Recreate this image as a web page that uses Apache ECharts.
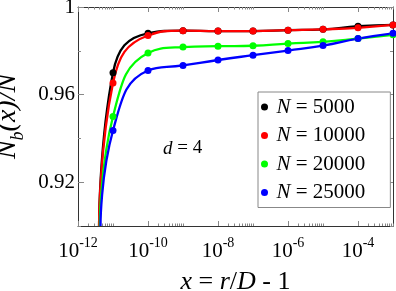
<!DOCTYPE html>
<html><head><meta charset="utf-8">
<script src="https://cdn.jsdelivr.net/npm/echarts@6/dist/echarts.min.js"></script>
<style>html,body{margin:0;padding:0;background:#fff}#c{width:396px;height:291px}</style>
</head><body><div id="c"></div>
<script>
const xValues = [1e-11, 1e-10, 1e-9, 1e-8, 1e-7, 1e-6, 1e-5, 1e-4, 1e-3];
const seriesNames = ['N = 5000', 'N = 10000', 'N = 20000', 'N = 25000'];
const colors = ['#000000', '#ff0000', '#00ff00', '#0000ff'];
const y5000  = [0.9700, 0.9880, 0.9892, 0.9890, 0.9890, 0.9894, 0.9898, 0.9912, 0.9918];
const y10000 = [0.9653, 0.9870, 0.9892, 0.9890, 0.9890, 0.9894, 0.9898, 0.9905, 0.9918];
const y20000 = [0.9500, 0.9790, 0.9817, 0.9821, 0.9823, 0.9833, 0.9841, 0.9856, 0.9873];
const y25000 = [0.9436, 0.9710, 0.9733, 0.9758, 0.9780, 0.9801, 0.9824, 0.9856, 0.9880];
// where each curve enters through the bottom edge of the frame
const entryX = [4.0e-12, 4.0e-12, 4.2e-12, 4.4e-12];
const entryY = 0.90;
const xLabelExps = [-12, -10, -8, -6, -4];
const yLabelValues = [0.92, 0.96, 1];
const yMinorValues = [0.90, 0.94, 0.98];
const annotation = 'd = 4';

const allY = [y5000, y10000, y20000, y25000];
const serif = 'Liberation Serif';
const xMinorExps = [];
xLabelExps.forEach(e => { for (let k = 2; k <= 10; k++) xMinorExps.push(e + Math.log10(k)); });

const tickColor = '#888';
const axisColor = '#333';

function tickAxisX(pos, vals, len) {
  return {type: 'value', min: -12, max: -3, position: pos, gridIndex: 0,
    axisLine: {show: false}, splitLine: {show: false}, axisLabel: {show: false},
    axisTick: {show: true, inside: true, length: len, customValues: vals, lineStyle: {color: tickColor, width: 1}}};
}
function tickAxisY(pos, vals, len, showLine) {
  return {type: 'value', min: 0.9, max: 1, position: pos, gridIndex: 0,
    axisLine: {show: showLine, onZero: false, lineStyle: {color: axisColor, width: 1}}, splitLine: {show: false}, axisLabel: {show: false},
    axisTick: {show: true, inside: true, length: len, customValues: vals, lineStyle: {color: tickColor, width: 1}}};
}

const series = allY.map((ys, i) => ({
  name: seriesNames[i], type: 'line', xAxisIndex: 0, yAxisIndex: 0,
  smooth: 0.5, symbol: 'circle', symbolSize: 7, showAllSymbol: true,
  lineStyle: {color: colors[i], width: 2.3}, itemStyle: {color: colors[i]},
  clip: true,
  data: [{value: [entryX[i], entryY], symbol: 'none'}].concat(xValues.map((x, j) => [x, ys[j]]))
}));

const chart = echarts.init(document.getElementById('c'), null, {renderer: 'canvas'});
chart.setOption({
  animation: false,
  backgroundColor: '#fff',
  grid: {left: 78, right: 3, top: 7, bottom: 65, containLabel: false, outerBoundsMode: 'none'},
  xAxis: [
    {type: 'log', logBase: 10, min: 1e-12, max: 1e-3, position: 'bottom',
     axisLine: {show: true, onZero: false, lineStyle: {color: axisColor, width: 1}},
     axisTick: {show: false}, splitLine: {show: false}, minorTick: {show: false},
     axisLabel: {margin: 10, formatter: v => {
        const e = Math.round(Math.log10(v));
        return xLabelExps.indexOf(e) >= 0 ? '{a|10}{b|' + e + '}' : '';
      },
      rich: {a: {fontFamily: serif, fontSize: 21, color: '#000', lineHeight: 26, verticalAlign: 'bottom'},
             b: {fontFamily: serif, fontSize: 14, color: '#000', lineHeight: 26, verticalAlign: 'top'}}},
     name: '{i|x}{t| = }{i|r}{t|/}{i|D}{t| - 1}', nameLocation: 'middle', nameGap: 43,
     nameTextStyle: {rich: {i: {fontFamily: serif, fontStyle: 'italic', fontSize: 26, color: '#000'},
                            t: {fontFamily: serif, fontSize: 26, color: '#000'}}}},
    tickAxisX('bottom', xLabelExps, 5),
    tickAxisX('bottom', xMinorExps, 2.5),
    Object.assign(tickAxisX('top', xLabelExps, 5), {axisLine: {show: true, onZero: false, lineStyle: {color: axisColor, width: 1}}}),
    tickAxisX('top', xMinorExps, 2.5)
  ],
  yAxis: [
    {type: 'value', min: 0.9, max: 1, position: 'left',
     axisLine: {show: true, onZero: false, lineStyle: {color: axisColor, width: 1}},
     splitLine: {show: false},
     axisTick: {show: true, inside: true, length: 6, customValues: yLabelValues, lineStyle: {color: tickColor, width: 1}},
     axisLabel: {customValues: yLabelValues, margin: 3, fontFamily: serif, fontSize: 21, color: '#000',
       formatter: v => (Math.abs(v - 1) < 1e-9 ? '1' : v.toFixed(2))},
     name: '{n|N}{s|b}{n|(x)/N}', nameLocation: 'middle', nameGap: 44, nameRotate: 90,
     nameTextStyle: {rich: {n: {fontFamily: serif, fontStyle: 'italic', fontSize: 28, color: '#000', lineHeight: 30},
                            s: {fontFamily: serif, fontStyle: 'italic', fontSize: 18, color: '#000', lineHeight: 40, verticalAlign: 'bottom'}}}},
    tickAxisY('left', yMinorValues, 3, false),
    tickAxisY('right', yLabelValues, 6, true),
    tickAxisY('right', yMinorValues, 3, false)
  ],
  legend: {
    data: seriesNames, orient: 'vertical', left: 258, top: 92,
    padding: [4, 25, 4, 3], itemGap: 6.5, itemWidth: 14, itemHeight: 7, icon: 'circle',
    borderColor: '#888', borderWidth: 1, backgroundColor: '#fff',
    formatter: name => '{i|N}{t|' + name.slice(1) + '}',
    textStyle: {fontFamily: serif, fontSize: 21, color: '#000', lineHeight: 22,
      rich: {i: {fontFamily: serif, fontStyle: 'italic', fontSize: 21, color: '#000', lineHeight: 22},
             t: {fontFamily: serif, fontSize: 21, color: '#000', lineHeight: 22}}}
  },
  graphic: [{type: 'text', left: 163, top: 139, z: 10,
    style: {text: '{i|' + annotation.charAt(0) + '}{t|' + annotation.slice(1) + '}',
      rich: {i: {fontFamily: serif, fontStyle: 'italic', fontSize: 19, fill: '#000'},
             t: {fontFamily: serif, fontSize: 19, fill: '#000'}}}}],
  series: series
});
</script></body></html>
